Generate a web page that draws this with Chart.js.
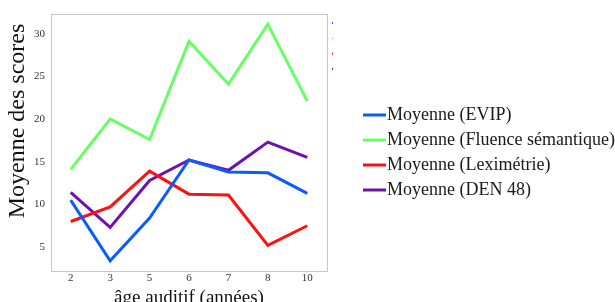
<!DOCTYPE html>
<html><head><meta charset="utf-8">
<script src="https://cdn.jsdelivr.net/npm/chart.js@4"></script>
<style>html,body{margin:0;padding:0;background:#fff}#wrap{width:615px;height:302px;position:relative}</style>
</head><body><div id="wrap"><canvas id="c" width="615" height="302"></canvas></div>
<script>
const categories = ['2','3','5','6','7','8','10'];
const evip = [10.5, 3.4, 8.4, 15.2, 13.8, 13.7, 11.3];
const fluence = [14.1, 20.0, 17.6, 29.1, 24.1, 31.1, 22.1];
const leximetrie = [8.0, 9.7, 13.9, 11.2, 11.1, 5.2, 7.5];
const den48 = [11.4, 7.3, 12.8, 15.2, 14.0, 17.3, 15.5];
const seriesLabels = ['Moyenne (EVIP)', 'Moyenne (Fluence sémantique)', 'Moyenne (Leximétrie)', 'Moyenne (DEN 48)'];
const yTicks = [5, 10, 15, 20, 25, 30];
const yTitle = 'Moyenne des scores';
const xTitle = 'âge auditif (années)';
const colors = ['#0a5cff', '#66ff66', '#ff1010', '#7010b0'];

const SERIF = "'Liberation Serif','Times New Roman',serif";

const frame = {
  id: 'frame',
  afterDraw(chart) {
    const ctx = chart.ctx, a = chart.chartArea;
    ctx.save();
    ctx.strokeStyle = '#c8c8c8';
    ctx.lineWidth = 1;
    ctx.strokeRect(Math.round(a.left) + 0.5, Math.round(a.top) + 0.5, Math.round(a.right - a.left), Math.round(a.bottom - a.top));
    // y axis title
    ctx.save();
    ctx.translate(18, 121);
    ctx.rotate(-Math.PI / 2);
    ctx.font = '24px ' + SERIF;
    ctx.fillStyle = '#111';
    ctx.textAlign = 'center';
    ctx.textBaseline = 'middle';
    ctx.fillText(yTitle, 0, 0);
    ctx.restore();
    // custom legend
    const ds = chart.data.datasets;
    ctx.font = '18px ' + SERIF;
    ctx.textBaseline = 'middle';
    ctx.textAlign = 'left';
    ds.forEach((d, i) => {
      const y = 115 + i * 25;
      ctx.strokeStyle = d.borderColor;
      ctx.lineWidth = 3;
      ctx.beginPath(); ctx.moveTo(363, y); ctx.lineTo(386, y); ctx.stroke();
      ctx.fillStyle = '#1a1a1a';
      ctx.fillText(d.label, 387, y);
      ctx.fillStyle = d.borderColor;
      ctx.fillRect(332, 22 + i * 15.3, 1, 2);
    });
    ctx.restore();
  }
};

new Chart(document.getElementById('c'), {
  type: 'line',
  data: {
    labels: categories,
    datasets: [evip, fluence, leximetrie, den48].map((v, i) => ({
      label: seriesLabels[i], data: v, borderColor: colors[i], backgroundColor: colors[i],
      borderWidth: 3, pointRadius: 0, tension: 0, fill: false
    }))
  },
  options: {
    responsive: false, animation: false,
    layout: { padding: { top: 14, right: 288, left: 0, bottom: 0 } },
    plugins: { legend: { display: false }, tooltip: { enabled: false } },
    scales: {
      x: {
        offset: true,
        grid: { display: false, drawTicks: false },
        border: { display: false },
        ticks: { color: '#333', font: { family: SERIF, size: 11 }, padding: 1, maxRotation: 0 },
        title: { display: true, text: xTitle, color: '#111', font: { family: SERIF, size: 19 }, padding: { top: 0, bottom: -7 } },
        afterFit(s) { s.height = 31; }
      },
      y: {
        min: 2.2, max: 32.3,
        afterBuildTicks(s) { s.ticks = yTicks.map(v => ({ value: v })); },
        grid: { display: false, drawTicks: true, tickLength: 3, color: '#c8c8c8' },
        border: { display: false },
        ticks: { color: '#333', font: { family: SERIF, size: 11 }, padding: 3 },
        afterFit(s) { s.width = 51; }
      }
    }
  },
  plugins: [frame]
});
</script></body></html>
